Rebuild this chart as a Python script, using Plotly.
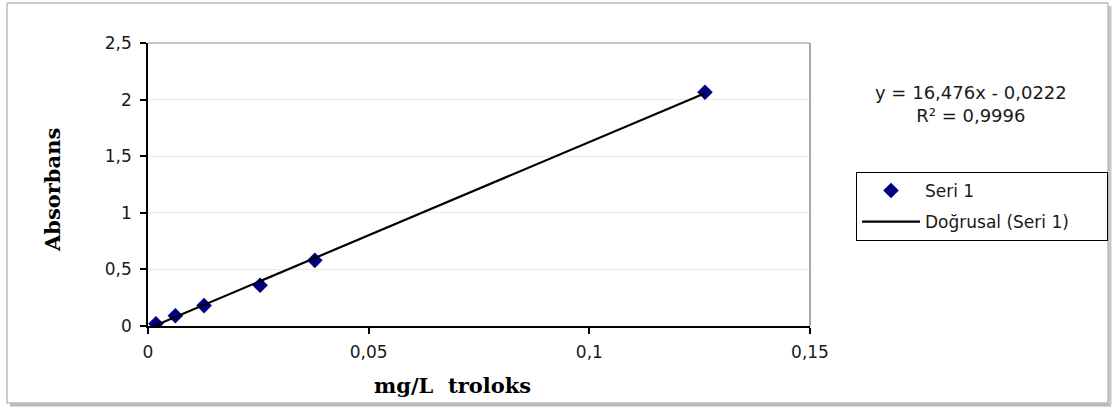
import plotly.graph_objects as go

# Data
conc = [0.0018, 0.0062, 0.0127, 0.0254, 0.0378, 0.1262]   # mg/L troloks
absorb = [0.02, 0.09, 0.18, 0.36, 0.58, 2.065]             # Absorbans
slope = 16.476
intercept = -0.0222
r2_label = "R² = 0,9996"
eq_label = "y = 16,476x - 0,0222"
series_names = ["Seri 1", "Doğrusal (Seri 1)"]
x_ticks = [0, 0.05, 0.1, 0.15]
y_ticks = [0, 0.5, 1, 1.5, 2, 2.5]

fit_x = [min(conc), max(conc)]
fit_y = [slope * v + intercept for v in fit_x]

pad = "\u00a0" * 6  # invisible padding so the legend box is as wide as in the reference

fig = go.Figure()
fig.add_trace(go.Scatter(
    x=conc, y=absorb, mode="markers", name=series_names[0], legendgroup="a",
    marker=dict(symbol="diamond", size=12, color="#000080"),
))
fig.add_trace(go.Scatter(
    x=fit_x, y=fit_y, mode="lines", name=series_names[1] + pad, legendgroup="b",
    line=dict(color="black", width=2.2),
))

W, H = 1114, 409
L, R, T, B = 148, 810, 43, 326
pw, ph = R - L, B - T
def px(xp): return (xp - L) / pw
def py(yp): return (B - yp) / ph

sans = "DejaVu Sans, Verdana, sans-serif"
serif = "DejaVu Serif, Times New Roman, serif"
tickfont = dict(family=sans, size=17, color="#1a1a1a")

fig.update_layout(
    width=W, height=H,
    margin=dict(l=L, r=W - R, t=T, b=H - B, autoexpand=False),
    paper_bgcolor="white", plot_bgcolor="rgba(0,0,0,0)",
    separators=", ",
    showlegend=True,
    legend=dict(
        x=px(856), y=py(172), xanchor="left", yanchor="top",
        bordercolor="black", borderwidth=1, traceorder="grouped",
        font=dict(family=sans, size=17, color="#1a1a1a"),
        tracegroupgap=6, itemwidth=58,
    ),
    xaxis=dict(
        range=[0, 0.15], tickvals=x_ticks, showgrid=False, zeroline=False,
        showline=True, linecolor="black", linewidth=1.5,
        ticks="outside", ticklen=6, tickcolor="black", tickwidth=1.5,
        tickfont=tickfont, fixedrange=True, ticklabelstandoff=4,
    ),
    yaxis=dict(
        range=[0, 2.5], tickvals=y_ticks, showgrid=True, gridcolor="#eeeae2", gridwidth=1,
        zeroline=False, showline=True, linecolor="black", linewidth=1.5,
        ticks="outside", ticklen=6, tickcolor="black", tickwidth=1.5,
        tickfont=tickfont, fixedrange=True, ticklabelstandoff=5,
    ),
    annotations=[
        dict(text="<b>Absorbans</b>", xref="paper", yref="paper", x=px(52), y=py(190),
             textangle=-90, showarrow=False, xanchor="center", yanchor="middle",
             font=dict(family=serif, size=21, color="black")),
        dict(text="<b>mg/L  troloks</b>", xref="paper", yref="paper", x=px(452), y=py(385),
             showarrow=False, xanchor="center", yanchor="middle",
             font=dict(family=serif, size=21, color="black")),
        dict(text=eq_label + "<br>" + r2_label, xref="paper", yref="paper", x=px(971), y=py(104),
             showarrow=False, xanchor="center", yanchor="middle", align="center",
             font=dict(family=sans, size=18, color="#1a1a1a")),
    ],
    shapes=[
        # top and right plot borders (gray)
        dict(type="line", xref="paper", yref="paper", x0=0, x1=1, y0=1, y1=1,
             line=dict(color="#8c8c8c", width=1.2)),
        dict(type="line", xref="paper", yref="paper", x0=1, x1=1, y0=0, y1=1,
             line=dict(color="#8c8c8c", width=1.5)),
        # outer chart frame shadow
        dict(type="line", xref="paper", yref="paper", x0=px(10), x1=px(1111), y0=py(405), y1=py(405),
             line=dict(color="#b8b8b8", width=3)),
        dict(type="line", xref="paper", yref="paper", x0=px(1110), x1=px(1110), y0=py(6), y1=py(405),
             line=dict(color="#c8c8c8", width=3)),
        # outer chart frame
        dict(type="rect", xref="paper", yref="paper", x0=px(7), x1=px(1108), y0=py(403), y1=py(3),
             line=dict(color="#9a9a9a", width=1)),
    ],
)

fig.write_html("out.html", config={"displayModeBar": False},
               post_script="document.body.style.margin='0';")
